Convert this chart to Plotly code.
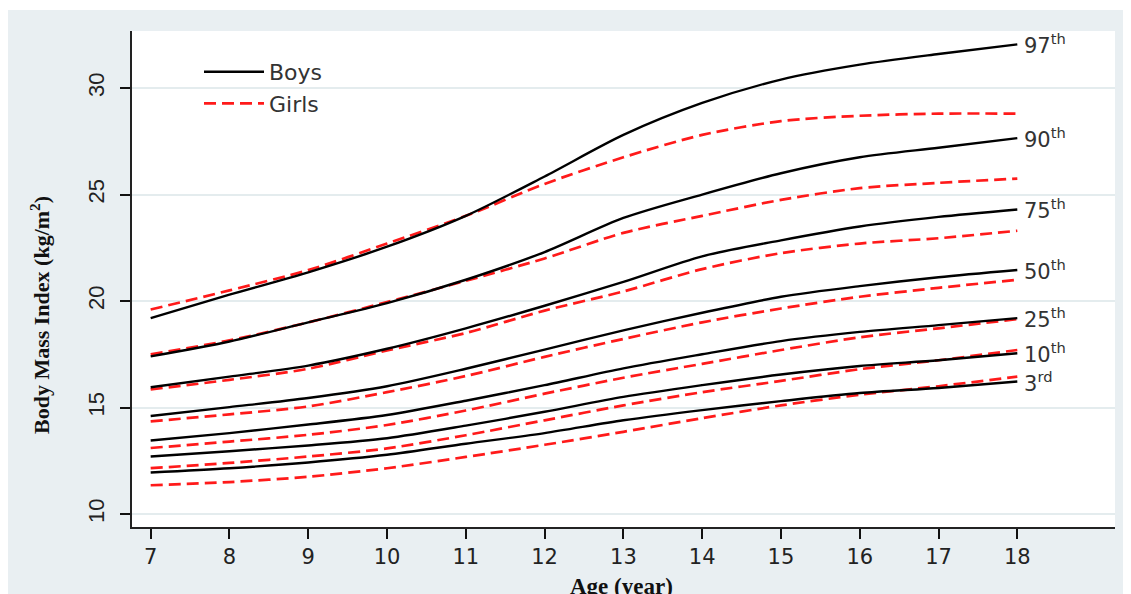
import plotly.graph_objects as go

ages = [7, 8, 9, 10, 11, 12, 13, 14, 15, 16, 17, 18]

boys_p3  = [11.95, 12.15, 12.42, 12.78, 13.30, 13.80, 14.40, 14.88, 15.30, 15.68, 15.92, 16.22]
boys_p10 = [12.70, 12.95, 13.22, 13.56, 14.15, 14.80, 15.50, 16.05, 16.55, 16.95, 17.22, 17.55]
boys_p25 = [13.45, 13.80, 14.20, 14.65, 15.32, 16.05, 16.84, 17.50, 18.12, 18.55, 18.87, 19.20]
boys_p50 = [14.60, 15.02, 15.45, 16.00, 16.82, 17.72, 18.62, 19.45, 20.20, 20.70, 21.12, 21.46]
boys_p75 = [15.95, 16.45, 16.97, 17.76, 18.72, 19.78, 20.90, 22.10, 22.85, 23.50, 23.95, 24.30]
boys_p90 = [17.40, 18.10, 19.00, 19.90, 21.00, 22.30, 23.90, 25.00, 26.00, 26.75, 27.20, 27.65]
boys_p97 = [19.20, 20.30, 21.35, 22.55, 24.00, 25.85, 27.80, 29.30, 30.40, 31.10, 31.60, 32.05]

girls_p3  = [11.35, 11.50, 11.75, 12.15, 12.68, 13.25, 13.86, 14.50, 15.10, 15.60, 16.00, 16.45]
girls_p10 = [12.15, 12.40, 12.70, 13.08, 13.70, 14.40, 15.10, 15.72, 16.25, 16.80, 17.22, 17.70]
girls_p25 = [13.10, 13.40, 13.72, 14.18, 14.86, 15.65, 16.40, 17.05, 17.70, 18.30, 18.72, 19.15]
girls_p50 = [14.35, 14.68, 15.05, 15.72, 16.48, 17.38, 18.22, 19.00, 19.65, 20.20, 20.62, 21.00]
girls_p75 = [15.85, 16.30, 16.82, 17.68, 18.50, 19.55, 20.45, 21.50, 22.25, 22.70, 22.95, 23.30]
girls_p90 = [17.50, 18.15, 19.00, 19.95, 20.95, 22.00, 23.20, 24.00, 24.75, 25.30, 25.55, 25.75]
girls_p97 = [19.60, 20.50, 21.45, 22.70, 24.00, 25.50, 26.75, 27.80, 28.45, 28.70, 28.80, 28.80]

pct_labels = ["97<sup>th</sup>", "90<sup>th</sup>", "75<sup>th</sup>", "50<sup>th</sup>",
              "25<sup>th</sup>", "10<sup>th</sup>", "3<sup>rd</sup>"]
boys_series = [boys_p97, boys_p90, boys_p75, boys_p50, boys_p25, boys_p10, boys_p3]
girls_series = [girls_p97, girls_p90, girls_p75, girls_p50, girls_p25, girls_p10, girls_p3]

x_ticks = list(range(7, 19))
y_ticks = [10, 15, 20, 25, 30]

fig = go.Figure()

for i, s in enumerate(girls_series):
    fig.add_trace(go.Scatter(
        x=ages, y=s, mode="lines", name="Girls", legendgroup="g",
        showlegend=(i == 0),
        line=dict(color="#ff1a1a", width=2.7, dash="12px,6px", shape="spline", smoothing=0.8),
        hoverinfo="skip"))

for i, s in enumerate(boys_series):
    fig.add_trace(go.Scatter(
        x=ages, y=s, mode="lines", name="Boys", legendgroup="b",
        showlegend=(i == 0),
        line=dict(color="#000000", width=2.4, shape="spline", smoothing=0.8),
        hoverinfo="skip"))

for lab, s in zip(pct_labels, boys_series):
    fig.add_annotation(x=ages[-1], y=s[-1], text=lab, showarrow=False,
                       xanchor="left", yanchor="middle", xshift=5,
                       font=dict(family="DejaVu Sans", size=21, color="#333333"))

# Figure is placed by the page at an 8px offset; coordinates below are figure pixels
W, H = 1123, 586
L, R, T, B = 124, 16, 23, 67
pw, ph = W - L - R, H - T - B

def px_x(p):
    return (p - L) / pw

def px_y(p):
    return (H - B - p) / ph

# Axis titles
fig.add_annotation(text="<b>Age (year)</b>", xref="paper", yref="paper",
                   x=px_x(613), y=px_y(578), xanchor="center", yanchor="middle",
                   showarrow=False,
                   font=dict(family="Liberation Serif", size=23, color="#111111"))
fig.add_annotation(text="<b>Body Mass Index (kg/m<sup>2</sup>)</b>", xref="paper", yref="paper",
                   x=px_x(32), y=px_y(307), textangle=-90, xanchor="center", yanchor="middle",
                   showarrow=False,
                   font=dict(family="Liberation Serif", size=22, color="#111111"))

# thin white strip at the very top of the page
fig.add_shape(type="rect", xref="paper", yref="paper", x0=px_x(0), x1=px_x(W),
              y0=px_y(2), y1=px_y(0), fillcolor="white", line=dict(width=0), layer="below")

fig.update_layout(
    width=W, height=H,
    margin=dict(l=L, r=R, t=T, b=B),
    paper_bgcolor="#e9eff2",
    plot_bgcolor="#ffffff",
    showlegend=True,
    legend=dict(x=px_x(191), y=px_y(43), xanchor="left", yanchor="top",
                bgcolor="rgba(0,0,0,0)", traceorder="reversed",
                font=dict(family="DejaVu Sans", size=22, color="#333333"),
                itemwidth=60, tracegroupgap=6),
    xaxis=dict(range=[6.763, 19.24], tickmode="array", tickvals=x_ticks,
               ticks="outside", ticklen=10, tickwidth=2, tickcolor="#111111",
               showline=True, linecolor="#222222", linewidth=2,
               showgrid=False, zeroline=False, automargin=False,
               ticklabelstandoff=0,
               tickfont=dict(family="DejaVu Sans", size=21, color="#222222")),
    yaxis=dict(range=[9.39, 32.68], tickmode="array", tickvals=y_ticks,
               ticks="outside", ticklen=10, tickwidth=2, tickcolor="#111111",
               showline=True, linecolor="#222222", linewidth=2,
               showgrid=True, gridcolor="#e4ecee", gridwidth=2, zeroline=False,
               automargin=False, tickangle=-90, ticklabelstandoff=7,
               tickfont=dict(family="Liberation Sans", size=22, color="#222222")),
)

fig.write_html("out.html")
